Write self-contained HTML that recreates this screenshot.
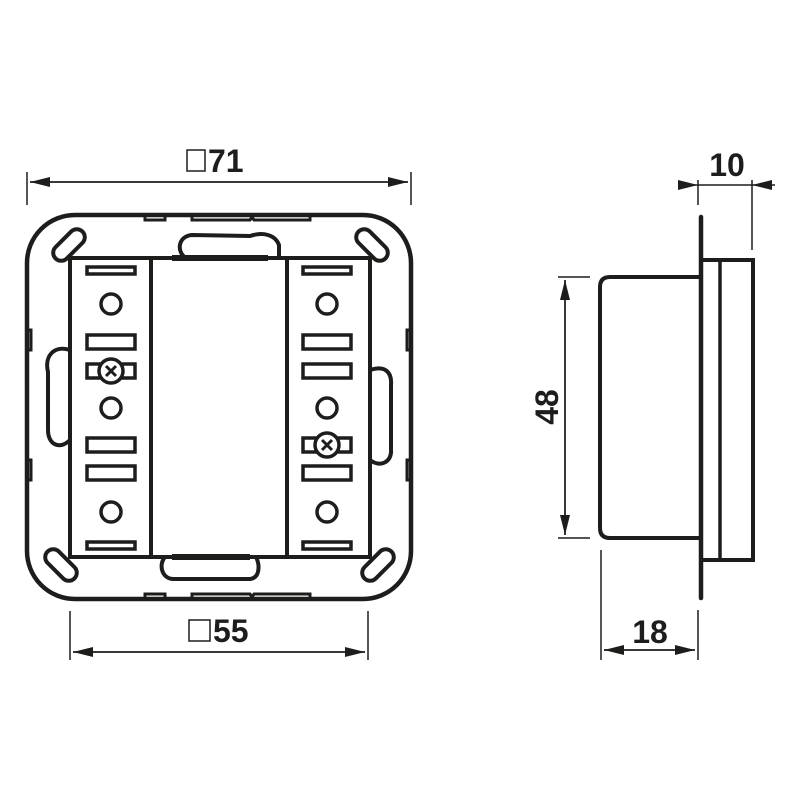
<!DOCTYPE html>
<html><head><style>html,body{margin:0;padding:0;background:#fff}svg{display:block}</style></head><body>
<svg width="800" height="800" viewBox="0 0 800 800" xmlns="http://www.w3.org/2000/svg" font-family="Liberation Sans, Arial, sans-serif">
<defs>
<marker id="a" viewBox="0 0 20 10" refX="20" refY="5" markerWidth="20" markerHeight="10" markerUnits="userSpaceOnUse" orient="auto"><path d="M0,0 L20,5 L0,10z" fill="#1d1d1b"/></marker>
</defs>
<g stroke="#1d1d1b" fill="none">
<!-- dim 71 -->
<line x1="27" y1="172" x2="27" y2="205" stroke-width="1.5"/>
<line x1="411" y1="172" x2="411" y2="205" stroke-width="1.5"/>
<line x1="30" y1="182" x2="408" y2="182" stroke-width="1.5" marker-end="url(#a)"/>
<line x1="408" y1="182" x2="30" y2="182" stroke-width="1.5" marker-end="url(#a)"/>
<rect x="187" y="150" width="18" height="21" stroke-width="1.5"/>
<!-- dim 55 -->
<line x1="70" y1="611" x2="70" y2="660" stroke-width="1.5"/>
<line x1="368" y1="611" x2="368" y2="660" stroke-width="1.5"/>
<line x1="73" y1="652" x2="365" y2="652" stroke-width="1.5" marker-end="url(#a)"/>
<line x1="365" y1="652" x2="73" y2="652" stroke-width="1.5" marker-end="url(#a)"/>
<rect x="189" y="620" width="21" height="21" stroke-width="1.5"/>

<!-- outer frame -->
<rect x="27" y="215" width="384" height="384" rx="48" stroke-width="4.5"/>
<g stroke-width="3">
<path d="M145,215 v5 h20 v-5 M192,215 v5 h58 l2,-3 l2,3 h56 v-5"/>
<path d="M145,599 v-5 h20 v5 M192,599 v-5 h58 l2,3 l2,-3 h56 v5"/>
<path d="M27,330 h4 v20 h-4 M27,460 h4 v20 h-4 M411,330 h-4 v20 h4 M411,460 h-4 v20 h4"/>
</g>
<!-- corner slots -->
<g stroke-width="4">
<rect x="50" y="237" width="38" height="16" rx="8" transform="rotate(-45 69 245)"/>
<rect x="353" y="237" width="38" height="16" rx="8" transform="rotate(45 372 245)"/>
<rect x="42" y="557" width="38" height="16" rx="8" transform="rotate(45 61 565)"/>
<rect x="359" y="557" width="38" height="16" rx="8" transform="rotate(-45 378 565)"/>
</g>
<!-- clips -->
<g stroke-width="4">
<path d="M186,258 C176,252 178,236 192,235 L250,236 C262,232 275,234 279,245 L279,258"/>
<path d="M165,557 C158,565 162,580 175,579 L250,579 C260,578 260,565 256,557"/>
<path d="M70,350 C55,345 44,355 48,372 L48,430 C48,445 60,450 70,440"/>
<path d="M370,370 C385,365 392,372 391,385 L391,450 C392,462 380,468 370,460"/>
</g>
<!-- module -->
<rect x="70" y="258" width="300" height="299" stroke-width="4"/>
<line x1="151" y1="258" x2="151" y2="557" stroke-width="4"/>
<line x1="287" y1="258" x2="287" y2="557" stroke-width="4"/>
<line x1="172" y1="258" x2="268" y2="258" stroke-width="6"/>
<line x1="172" y1="557" x2="250" y2="557" stroke-width="6"/>
<g stroke-width="3.5">
<rect x="87" y="267" width="48" height="7"/>
<rect x="87" y="542" width="48" height="7"/>
<circle cx="111" cy="304" r="10"/><circle cx="111" cy="408" r="10"/><circle cx="111" cy="512" r="10"/>
<rect x="87" y="335" width="48" height="14"/>
<rect x="87" y="438" width="48" height="14"/>
<rect x="87" y="466" width="48" height="14"/>
<rect x="87" y="364" width="48" height="14"/>
<circle cx="111" cy="371" r="12" fill="#fff"/>
<path d="M106,366 l10,10 M116,366 l-10,10" stroke-width="3"/>
<rect x="303" y="267" width="48" height="7"/>
<rect x="303" y="542" width="48" height="7"/>
<circle cx="327" cy="304" r="10"/><circle cx="327" cy="408" r="10"/><circle cx="327" cy="512" r="10"/>
<rect x="303" y="335" width="48" height="14"/>
<rect x="303" y="364" width="48" height="14"/>
<rect x="303" y="466" width="48" height="14"/>
<rect x="303" y="438" width="48" height="14"/>
<circle cx="327" cy="445" r="12" fill="#fff"/>
<path d="M322,440 l10,10 M332,440 l-10,10" stroke-width="3"/>
</g>

<!-- side view -->
<line x1="701" y1="217" x2="701" y2="598" stroke-width="4.5" stroke-linecap="round"/>
<path d="M699,277 H610 Q600,277 600,287 V528 Q600,538 610,538 H699" stroke-width="4"/>
<path d="M703,260 H753 V560 H703" stroke-width="4"/>
<line x1="720" y1="260" x2="720" y2="560" stroke-width="3.5"/>
<line x1="698" y1="180" x2="698" y2="205" stroke-width="1.5"/>
<line x1="752" y1="180" x2="752" y2="250" stroke-width="1.5"/>
<line x1="678" y1="185" x2="698" y2="185" stroke-width="1.5" marker-end="url(#a)"/>
<line x1="775" y1="185" x2="752" y2="185" stroke-width="1.5" marker-end="url(#a)"/>
<line x1="698" y1="185" x2="752" y2="185" stroke-width="1.5"/>
<line x1="558" y1="277" x2="590" y2="277" stroke-width="1.5"/>
<line x1="558" y1="538" x2="590" y2="538" stroke-width="1.5"/>
<line x1="565" y1="280" x2="565" y2="535" stroke-width="1.5" marker-end="url(#a)"/>
<line x1="565" y1="535" x2="565" y2="280" stroke-width="1.5" marker-end="url(#a)"/>
<line x1="601" y1="550" x2="601" y2="660" stroke-width="1.5"/>
<line x1="698" y1="610" x2="698" y2="660" stroke-width="1.5"/>
<line x1="604" y1="650" x2="695" y2="650" stroke-width="1.5" marker-end="url(#a)"/>
<line x1="695" y1="650" x2="604" y2="650" stroke-width="1.5" marker-end="url(#a)"/>
</g>
<g fill="#1d1d1b" font-weight="bold" font-size="32">
<text x="208" y="172">71</text>
<text x="213" y="642">55</text>
<text x="727" y="176" text-anchor="middle">10</text>
<text x="650" y="643" text-anchor="middle">18</text>
<text x="0" y="0" text-anchor="middle" transform="translate(558,407) rotate(-90)">48</text>
</g>
</svg>
</body></html>
